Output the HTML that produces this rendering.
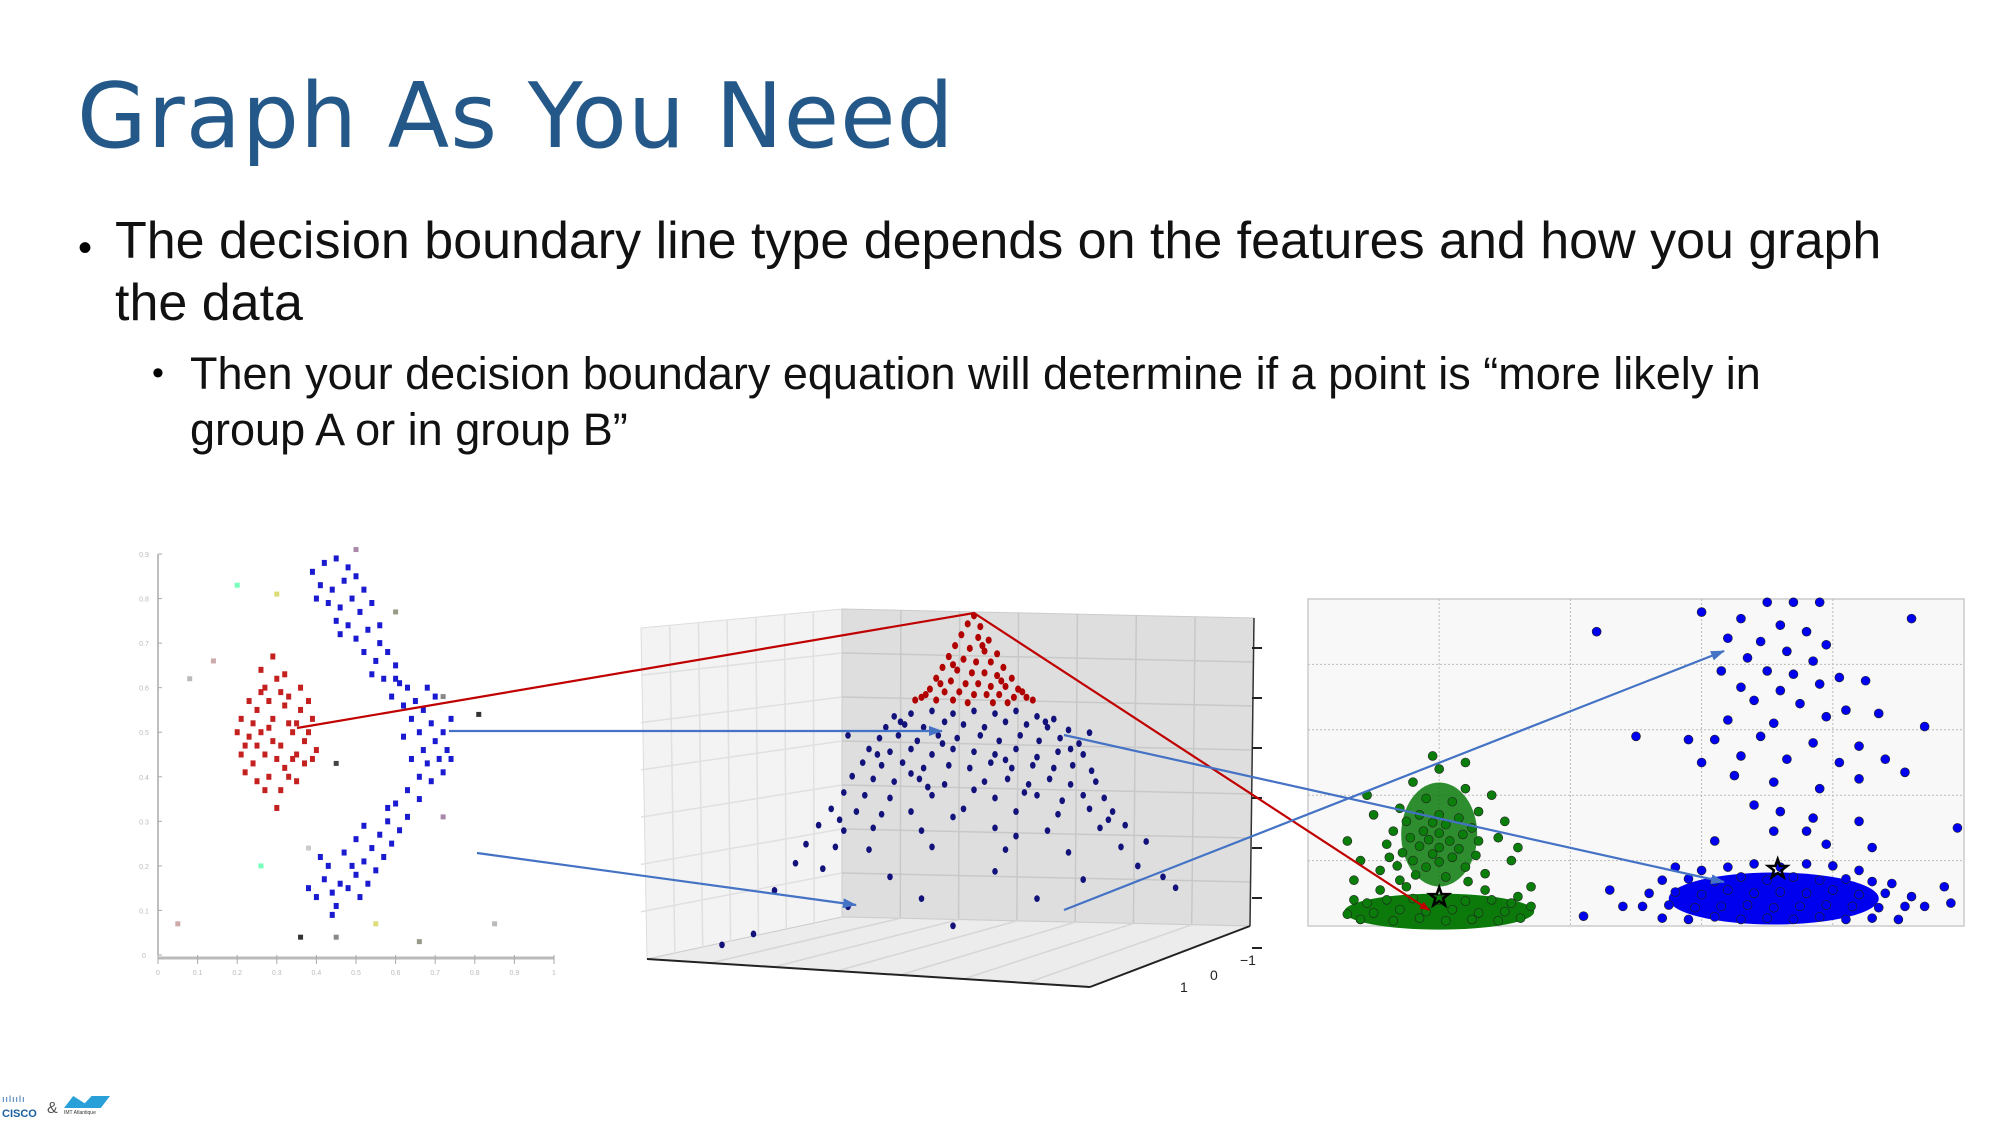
<!DOCTYPE html>
<html><head><meta charset="utf-8">
<style>
html,body{margin:0;padding:0;background:#fff;}
body{width:2000px;height:1125px;overflow:hidden;position:relative;font-family:"Liberation Sans","DejaVu Sans",sans-serif;}
#title{position:absolute;left:77px;top:64px;font-family:"DejaVu Sans","Liberation Sans",sans-serif;font-size:90px;color:#245888;margin:0;font-weight:normal;letter-spacing:1px;}
.b1{position:absolute;left:115px;width:1830px;font-size:52px;line-height:62px;color:#111;}
.b2{position:absolute;left:190px;width:1660px;font-size:45px;line-height:56px;color:#111;}
.dot{position:absolute;}
</style></head><body>
<h1 id="title">Graph As You Need</h1>
<div class="dot" style="left:78px;top:226px;font-size:40px">•</div>
<div class="b1" style="top:210px">The decision boundary line type depends on the features and how you graph the data</div>
<div class="dot" style="left:152px;top:354px;font-size:34px">•</div>
<div class="b2" style="top:346px">Then your decision boundary equation will determine if a point is “more likely in group A or in group B”</div>

<svg id="chart" width="2000" height="1125" style="position:absolute;left:0;top:0"></svg>

<div style="position:absolute;left:0;top:1092px;width:120px;height:32px">
<div style="position:absolute;left:2px;top:2px;font-size:9px;color:#1a5fa0;letter-spacing:1px">ıılıılı</div>
<div style="position:absolute;left:2px;top:16px;font-size:11px;font-weight:bold;color:#1a5fa0">CISCO</div>
<div style="position:absolute;left:47px;top:8px;font-size:16px;color:#555">&amp;</div>
<div style="position:absolute;left:64px;top:4px;width:46px;height:12px;background:#2aa0d8;clip-path:polygon(0 100%,20% 0,45% 60%,60% 0,100% 0,80% 100%)"></div>
<div style="position:absolute;left:64px;top:18px;font-size:5px;color:#333">IMT Atlantique</div>
</div>

<script>
// ---- Left 2D scatter data (x 0..1, y 0..0.9) ----
const leftRed=[[0.2,0.5],[0.22,0.47],[0.25,0.55],[0.27,0.6],[0.3,0.62],[0.33,0.58],[0.36,0.55],[0.38,0.5],[0.35,0.45],[0.32,0.42],[0.28,0.4],[0.24,0.43],[0.21,0.45],[0.26,0.5],[0.29,0.53],[0.31,0.47],[0.34,0.5],[0.37,0.43],[0.4,0.46],[0.39,0.53],[0.23,0.57],[0.26,0.64],[0.29,0.67],[0.32,0.56],[0.3,0.44],[0.27,0.37],[0.31,0.37],[0.35,0.39],[0.25,0.47],[0.33,0.52],[0.28,0.57],[0.24,0.52],[0.36,0.6],[0.22,0.41],[0.3,0.33],[0.27,0.45],[0.34,0.44],[0.38,0.57],[0.32,0.63],[0.21,0.53],[0.29,0.48],[0.26,0.59],[0.37,0.48],[0.33,0.4],[0.25,0.39],[0.23,0.49],[0.35,0.52],[0.31,0.59],[0.28,0.51],[0.39,0.44]];
const leftBlue=[[0.39,0.86],[0.42,0.88],[0.45,0.89],[0.48,0.87],[0.41,0.83],[0.44,0.82],[0.47,0.84],[0.5,0.85],[0.43,0.79],[0.46,0.78],[0.49,0.8],[0.52,0.82],[0.45,0.75],[0.48,0.74],[0.51,0.77],[0.54,0.79],[0.4,0.8],[0.5,0.71],[0.53,0.73],[0.56,0.7],[0.52,0.68],[0.55,0.66],[0.58,0.68],[0.6,0.65],[0.54,0.63],[0.57,0.62],[0.61,0.61],[0.59,0.58],[0.63,0.6],[0.62,0.56],[0.65,0.57],[0.64,0.53],[0.67,0.55],[0.66,0.5],[0.69,0.52],[0.7,0.48],[0.67,0.46],[0.72,0.5],[0.68,0.43],[0.71,0.44],[0.73,0.46],[0.66,0.4],[0.69,0.39],[0.72,0.41],[0.74,0.53],[0.63,0.37],[0.66,0.35],[0.6,0.34],[0.63,0.31],[0.58,0.3],[0.61,0.28],[0.56,0.27],[0.59,0.25],[0.54,0.24],[0.57,0.22],[0.52,0.21],[0.55,0.19],[0.5,0.18],[0.53,0.16],[0.48,0.15],[0.51,0.13],[0.46,0.16],[0.44,0.14],[0.42,0.17],[0.4,0.13],[0.45,0.11],[0.49,0.2],[0.47,0.23],[0.43,0.2],[0.41,0.22],[0.38,0.15],[0.44,0.09],[0.64,0.44],[0.7,0.58],[0.6,0.62],[0.56,0.74],[0.46,0.72],[0.58,0.33],[0.5,0.26],[0.62,0.49],[0.68,0.6],[0.74,0.44],[0.52,0.29]];
const leftNoise=[[0.2,0.83],[0.3,0.81],[0.08,0.62],[0.14,0.66],[0.5,0.91],[0.6,0.77],[0.72,0.58],[0.81,0.54],[0.45,0.43],[0.38,0.24],[0.26,0.2],[0.55,0.07],[0.85,0.07],[0.05,0.07],[0.72,0.31],[0.66,0.03],[0.45,0.04],[0.36,0.04]];
const leftXTicks=["0","0.1","0.2","0.3","0.4","0.5","0.6","0.7","0.8","0.9","1"];
const leftYTicks=["0","0.1","0.2","0.3","0.4","0.5","0.6","0.7","0.8","0.9"];

// ---- 3D cone data (u -1..1 across, h 0..1 height) ----
const coneRed=[[0,0.99],[-0.03,0.96],[0.03,0.95],[-0.06,0.92],[0.02,0.91],[0.07,0.9],[-0.09,0.88],[-0.02,0.87],[0.05,0.86],[0.11,0.85],[-0.12,0.84],[-0.05,0.83],[0.01,0.82],[0.08,0.82],[0.14,0.8],[-0.15,0.8],[-0.08,0.79],[-0.01,0.78],[0.05,0.78],[0.11,0.77],[0.18,0.76],[-0.18,0.76],[-0.11,0.75],[-0.04,0.74],[0.02,0.74],[0.08,0.73],[0.15,0.73],[0.21,0.72],[-0.21,0.72],[-0.14,0.71],[-0.07,0.71],[0,0.7],[0.06,0.7],[0.12,0.7],[0.19,0.69],[0.25,0.69],[-0.25,0.69],[-0.18,0.68],[-0.1,0.68],[-0.03,0.67],[0.09,0.67],[0.16,0.67],[0.28,0.68],[-0.28,0.68],[0.23,0.71],[-0.23,0.7],[0.04,0.88],[-0.1,0.81],[0.13,0.75],[-0.16,0.74]];
const coneBlue=[[-0.38,0.62],[-0.3,0.63],[-0.2,0.64],[-0.1,0.63],[0,0.64],[0.1,0.63],[0.2,0.64],[0.3,0.62],[0.38,0.61],[-0.42,0.58],[-0.33,0.59],[-0.24,0.58],[-0.14,0.6],[-0.05,0.59],[0.05,0.58],[0.15,0.6],[0.25,0.59],[0.35,0.58],[0.45,0.57],[-0.45,0.54],[-0.36,0.55],[-0.27,0.53],[-0.17,0.55],[-0.08,0.54],[0.03,0.55],[0.12,0.53],[0.22,0.55],[0.31,0.53],[0.41,0.54],[0.5,0.52],[-0.5,0.5],[-0.4,0.49],[-0.3,0.5],[-0.2,0.48],[-0.1,0.5],[0,0.49],[0.1,0.48],[0.2,0.5],[0.3,0.47],[0.4,0.49],[0.52,0.48],[-0.53,0.45],[-0.44,0.44],[-0.34,0.45],[-0.24,0.43],[-0.12,0.44],[-0.02,0.43],[0.08,0.45],[0.18,0.43],[0.28,0.44],[0.38,0.43],[0.47,0.44],[0.56,0.42],[-0.58,0.4],[-0.48,0.39],[-0.38,0.38],[-0.26,0.39],[-0.14,0.37],[0.05,0.38],[0.16,0.39],[0.26,0.37],[0.36,0.39],[0.46,0.37],[0.58,0.38],[-0.62,0.34],[-0.52,0.33],[-0.4,0.32],[-0.2,0.33],[0.1,0.32],[0.3,0.33],[0.42,0.31],[0.52,0.33],[0.62,0.32],[-0.68,0.28],[-0.56,0.27],[-0.44,0.26],[-0.3,0.27],[-0.05,0.28],[0.2,0.27],[0.4,0.26],[0.55,0.28],[0.66,0.27],[-0.74,0.22],[-0.62,0.2],[-0.48,0.21],[-0.25,0.2],[0.1,0.21],[0.35,0.2],[0.6,0.21],[0.72,0.22],[-0.8,0.15],[-0.66,0.14],[-0.5,0.13],[-0.2,0.14],[0.15,0.13],[0.45,0.12],[0.7,0.14],[0.82,0.16],[-0.85,0.08],[-0.72,0.06],[-0.4,0.03],[0.1,0.05],[0.52,0.02],[0.78,0.07],[0.9,0.03],[-0.95,-0.02],[-0.6,-0.08],[-0.25,-0.05],[0.3,-0.05],[0.96,-0.01],[-1.05,-0.18],[-1.2,-0.22],[-0.1,-0.15],[-0.6,0.55],[0.55,0.56],[-0.3,0.41],[0.0,0.35],[0.2,0.18],[-0.1,0.25],[-0.35,0.6],[0.34,0.6],[-0.46,0.48],[0.46,0.5],[-0.15,0.52],[0.15,0.46],[-0.22,0.36],[0.24,0.34],[-0.64,0.24],[0.64,0.24]];

// ---- Right scatter data (x 0..5, y 0..5) ----
const greenUpper=[[1,2.4],[0.8,2.2],[1.2,2.1],[0.9,1.95],[1.1,1.9],[0.7,1.8],[1.3,1.75],[0.85,1.7],[1.0,1.7],[1.15,1.65],[0.75,1.6],[0.95,1.58],[1.05,1.55],[1.25,1.5],[0.65,1.45],[0.88,1.45],[1.0,1.42],[1.18,1.4],[0.78,1.35],[0.92,1.32],[1.08,1.3],[1.3,1.3],[0.6,1.25],[0.85,1.22],[1.0,1.2],[1.15,1.18],[0.72,1.12],[0.95,1.1],[1.1,1.05],[1.28,1.08],[0.8,1.0],[1.0,0.98],[0.68,0.92],[0.9,0.9],[1.2,0.9],[0.55,0.85],[1.35,0.8],[0.82,0.78],[1.05,0.75],[0.7,0.7],[1.22,0.68],[0.4,1.0],[1.55,1.0],[0.3,1.3],[1.6,1.2],[0.5,1.7],[1.5,1.6],[0.45,2.0],[1.4,2.0],[0.95,2.6],[1.2,2.5],[0.62,1.05],[1.45,1.35],[0.35,0.7],[1.7,0.6]];
const greenLower=[[0.45,0.35],[0.6,0.4],[0.8,0.42],[1.0,0.4],[1.2,0.38],[1.4,0.4],[1.55,0.35],[0.5,0.2],[0.7,0.25],[0.9,0.22],[1.1,0.25],[1.3,0.2],[1.5,0.22],[0.4,0.1],[0.65,0.08],[0.85,0.12],[1.05,0.08],[1.25,0.1],[1.45,0.08],[1.62,0.12],[0.3,0.18],[1.7,0.3],[0.35,0.4],[1.6,0.45],[0.55,0.55],[0.75,0.6],[1.35,0.55]];
const blueDense=[[2.8,0.9],[3.0,0.85],[3.2,0.9],[3.4,0.95],[3.6,0.9],[3.8,0.95],[4.0,0.92],[4.2,0.85],[2.7,0.7],[2.9,0.72],[3.1,0.68],[3.3,0.75],[3.5,0.7],[3.7,0.75],[3.9,0.7],[4.1,0.72],[4.3,0.68],[4.45,0.65],[2.6,0.5],[2.8,0.52],[3.0,0.48],[3.2,0.55],[3.4,0.5],[3.6,0.52],[3.8,0.5],[4.0,0.55],[4.2,0.48],[4.4,0.5],[4.6,0.45],[2.55,0.3],[2.75,0.32],[2.95,0.28],[3.15,0.3],[3.35,0.32],[3.55,0.28],[3.75,0.3],[3.95,0.32],[4.15,0.3],[4.35,0.28],[4.55,0.3],[4.7,0.3],[2.7,0.12],[2.9,0.1],[3.1,0.14],[3.3,0.1],[3.5,0.12],[3.7,0.1],[3.9,0.14],[4.1,0.1],[4.3,0.12],[4.5,0.1],[2.3,0.55],[2.4,0.3],[2.1,0.15],[4.85,0.6],[4.9,0.35]];
const blueSparse=[[3.5,4.95],[3.7,4.95],[3.9,4.95],[3.3,4.7],[3.6,4.6],[3.2,4.4],[3.45,4.35],[3.8,4.5],[3.95,4.3],[3.65,4.2],[3.35,4.1],[3.85,4.05],[3.15,3.9],[3.5,3.9],[3.7,3.85],[4.05,3.8],[3.3,3.65],[3.6,3.6],[3.9,3.7],[4.25,3.75],[3.4,3.45],[3.75,3.4],[4.1,3.3],[3.2,3.15],[3.55,3.1],[3.95,3.2],[4.35,3.25],[3.1,2.85],[3.45,2.9],[3.85,2.8],[4.2,2.75],[2.5,2.9],[2.9,2.85],[3.3,2.6],[3.65,2.55],[4.05,2.5],[4.4,2.55],[3.0,2.5],[3.25,2.3],[3.55,2.2],[3.9,2.1],[4.2,2.25],[3.4,1.85],[3.6,1.75],[3.85,1.65],[4.2,1.6],[3.55,1.45],[3.8,1.45],[3.95,1.25],[4.3,1.2],[3.1,1.3],[2.2,4.5],[3.0,4.8],[4.6,4.7],[4.7,3.05],[4.55,2.35],[4.95,1.5]];
const rightTicks=[0,1,2,3,4,5];

const svg=document.getElementById('chart');
const NS='http://www.w3.org/2000/svg';
function el(tag,attrs,parent){const e=document.createElementNS(NS,tag);for(const k in attrs)e.setAttribute(k,attrs[k]);(parent||svg).appendChild(e);return e;}

// ===== Left scatter =====
const lx=v=>158+v*396, ly=v=>955-v/0.9*401;
const gL=el('g',{});


el('line',{x1:lx(0),y1:ly(0),x2:lx(0),y2:ly(0.9),stroke:'#aaa','stroke-width':1.5},gL);
el('line',{x1:lx(0),y1:ly(0)+3,x2:lx(1),y2:ly(0)+3,stroke:'#bbb','stroke-width':3},gL);
leftXTicks.forEach((t,i)=>{const x=lx(i/10);
 el('line',{x1:x,y1:ly(0),x2:x,y2:ly(0)+9,stroke:'#aaa','stroke-width':1},gL);
 const tx=el('text',{x:x,y:ly(0)+20,'font-size':7,fill:'#bbb','text-anchor':'middle'},gL);tx.textContent=t;
 
 });
leftYTicks.forEach((t,i)=>{const y=ly(i/10);
 el('line',{x1:lx(0),y1:y,x2:lx(0)+4,y2:y,stroke:'#aaa','stroke-width':1},gL);
 const tx=el('text',{x:lx(0)-14,y:y+3,'font-size':7,fill:'#bbb','text-anchor':'middle'},gL);tx.textContent=t;
 
 });
const noiseCols=['#7fb','#dd7','#bbb','#caa','#a8a','#998','#888','#333','#444','#ccc'];
leftNoise.forEach((p,i)=>{const r=el('rect',{x:lx(p[0])-2.5,y:ly(p[1])-2.5,width:5,height:5,fill:noiseCols[i%noiseCols.length]},gL);
 
 });
leftRed.forEach(p=>{const r=el('rect',{x:lx(p[0])-2.5,y:ly(p[1])-3,width:5,height:6,fill:'#c42020'},gL);
 
 });
leftBlue.forEach(p=>{const r=el('rect',{x:lx(p[0])-2.5,y:ly(p[1])-3,width:5,height:6,fill:'#1a1ad0'},gL);
 
 });

// ===== 3D cone =====
const g3=el('g',{});


el('polygon',{points:'641,628 842,609 842,917 647,959',fill:'#f3f3f3',stroke:'#ddd'},g3);
el('polygon',{points:'842,609 1254,618 1250,926 842,917',fill:'#dedede',stroke:'#ccc'},g3);
el('polygon',{points:'647,959 842,917 1250,926 1090,987',fill:'#ececec',stroke:'#ccc'},g3);
for(let i=1;i<7;i++){const t=i/7;
 el('line',{x1:842+412*t,y1:609+9*t,x2:842+408*t,y2:917+9*t,stroke:'#c8c8c8','stroke-width':1.5},g3);
 el('line',{x1:842,y1:609+308*t,x2:1254-4*t,y2:618+308*t,stroke:'#c8c8c8','stroke-width':1.5},g3);
 el('line',{x1:641+201*t,y1:628-19*t,x2:647+195*t,y2:959-42*t,stroke:'#e0e0e0','stroke-width':1.5},g3);
 el('line',{x1:641,y1:628+331*t,x2:842,y2:609+308*t,stroke:'#e0e0e0','stroke-width':1.5},g3);
 el('line',{x1:647+443*t,y1:959+28*t,x2:842+408*t,y2:917+9*t,stroke:'#d6d6d6','stroke-width':1.5},g3);
}
el('line',{x1:1254,y1:618,x2:1250,y2:926,stroke:'#333','stroke-width':1.5},g3);
for(let i=0;i<7;i++){const y=648+i*50;el('line',{x1:1252,y1:y,x2:1262,y2:y,stroke:'#222','stroke-width':2},g3);}
el('line',{x1:647,y1:959,x2:1090,y2:987,stroke:'#222','stroke-width':2},g3);
el('line',{x1:1090,y1:987,x2:1250,y2:926,stroke:'#222','stroke-width':2},g3);
[['−1',1240,965],['0',1210,980],['1',1180,992]].forEach(a=>{const t=el('text',{x:a[1],y:a[2],'font-size':14,fill:'#222'},g3);t.textContent=a[0];
 
 });
const cx=u=>974+u*210, cy=h=>885-h*272;
coneBlue.forEach(p=>{const c=el('ellipse',{cx:cx(p[0]),cy:cy(p[1]),rx:2.8,ry:3.4,fill:'#12127a'},g3);
 
 });
coneRed.forEach(p=>{const c=el('ellipse',{cx:cx(p[0]),cy:cy(p[1]),rx:3,ry:3.6,fill:'#b00000'},g3);
 
 });

// ===== Right scatter =====
const rx=v=>1308+v*131.2, ry=v=>926-v*65.4;
const gR=el('g',{});


el('rect',{x:1308,y:599,width:656,height:327,fill:'#f8f8f8',stroke:'#ccc','stroke-width':1.5},gR);
rightTicks.slice(1,5).forEach(t=>{
 el('line',{x1:rx(t),y1:599,x2:rx(t),y2:926,stroke:'#bbb','stroke-dasharray':'2,2'},gR);
 el('line',{x1:1308,y1:ry(t),x2:1964,y2:ry(t),stroke:'#bbb','stroke-dasharray':'2,2'},gR);});
el('ellipse',{cx:rx(1.0),cy:ry(0.22),rx:95,ry:18,fill:'#0b7a0b'},gR);
el('ellipse',{cx:rx(1.0),cy:ry(1.4),rx:38,ry:52,fill:'#0b7a0b',opacity:0.85},gR);
el('ellipse',{cx:rx(3.55),cy:ry(0.42),rx:105,ry:26,fill:'#0000ee'},gR);
function rdot(p,fill,name){const c=el('circle',{cx:rx(p[0]),cy:ry(p[1]),r:4.5,fill:fill,stroke:'#222','stroke-width':0.6},gR);
 
 }
greenUpper.forEach(p=>rdot(p,'#0a7d0a','green-point'));
greenLower.forEach(p=>rdot(p,'#0a7d0a','green-point'));
blueSparse.forEach(p=>rdot(p,'#0000f0','blue-point'));
blueDense.forEach(p=>rdot(p,'#0000f0','blue-point'));
function star(x,y){let pts=[];for(let i=0;i<10;i++){const a=-Math.PI/2+i*Math.PI/5,r=i%2?4:10;pts.push((x+r*Math.cos(a)).toFixed(1)+','+(y+r*Math.sin(a)).toFixed(1));}
 const s=el('polygon',{points:pts.join(' '),fill:'none',stroke:'#000','stroke-width':2.5},gR);
 
 }
star(rx(1.0),ry(0.44));star(rx(3.58),ry(0.87));

// ===== Arrows =====
const defs=el('defs',{});
el('path',{d:'M0,0 L10,4 L0,8 z',fill:'#c00000'},el('marker',{id:'mr',markerWidth:10,markerHeight:8,refX:9,refY:4,orient:'auto',markerUnits:'userSpaceOnUse'},defs));
el('path',{d:'M0,0 L14,5 L0,10 z',fill:'#4472c4'},el('marker',{id:'mb',markerWidth:14,markerHeight:10,refX:13,refY:5,orient:'auto',markerUnits:'userSpaceOnUse'},defs));
const arrows=[['M297,728 L974,613 L1429,910','#c00000','mr','red-arrow'],['M449,731 L942,731','#4472c4','mb','blue-arrow'],['M477,853 L856,905','#4472c4','mb','blue-arrow'],['M1064,735 L1724,882','#4472c4','mb','blue-arrow'],['M1064,910 L1724,651','#4472c4','mb','blue-arrow']];
arrows.forEach(a=>{const p=el('path',{d:a[0],fill:'none',stroke:a[1],'stroke-width':2.2,'marker-end':'url(#'+a[2]+')'});
 
 });
</script>
</body></html>
